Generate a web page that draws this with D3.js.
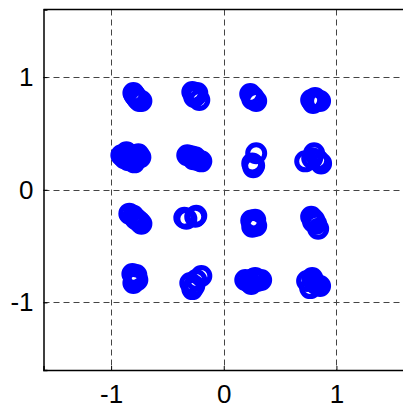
<!DOCTYPE html>
<meta charset="utf-8">
<style>
body { margin: 0; background: #fff; }
svg { display: block; }
.tick text { font-family: "Liberation Sans", Arial, sans-serif; font-size: 26px; fill: #000; }
</style>
<body>
<script src="https://d3js.org/d3.v7.min.js"></script>
<script>

var width = 403,
    height = 408;

// received symbols (in-phase / quadrature)
var inPhase = [
  -0.802, -0.785, -0.767, -0.749, -0.776, -0.731, -0.793,
  -0.279, -0.244, -0.217, -0.262, -0.235,
   0.235,  0.262,  0.288,  0.253,
   0.776,  0.802,  0.829,  0.855,  0.811,  0.793,
  -0.909, -0.864, -0.820, -0.785, -0.740, -0.847, -0.793, -0.829, -0.882, -0.758,
  -0.324, -0.288, -0.253, -0.226, -0.199, -0.270,
   0.288,  0.253,  0.262,  0.270,
   0.802,  0.723,  0.864,  0.838,  0.785,
  -0.838, -0.802, -0.767, -0.731, -0.785, -0.749,
  -0.350, -0.244, -0.332, -0.253,
   0.244,  0.270,  0.288,  0.253,  0.279,
   0.776,  0.802,  0.820,  0.838,  0.793,
  -0.811, -0.785, -0.767, -0.802, -0.776, -0.793,
  -0.297, -0.262, -0.244, -0.199, -0.279,
   0.191,  0.226,  0.262,  0.297,  0.332,  0.244,  0.279,
   0.740,  0.785,  0.820,  0.855,  0.767,  0.802
];

var quadrature = [
   0.859,  0.833,  0.806,  0.788,  0.824,  0.788,  0.841,
   0.868,  0.841,  0.797,  0.824,  0.859,
   0.850,  0.824,  0.788,  0.806,
   0.797,  0.788,  0.797,  0.788,  0.815,  0.770,
   0.306,  0.332,  0.306,  0.279,  0.288,  0.261,  0.243,  0.288,  0.279,  0.315,
   0.306,  0.297,  0.288,  0.261,  0.252,  0.270,
   0.324,  0.234,  0.199,  0.216,
   0.324,  0.252,  0.234,  0.261,  0.279,
  -0.212, -0.230, -0.266, -0.301, -0.257, -0.283,
  -0.248, -0.230, -0.257, -0.239,
  -0.274, -0.292, -0.319, -0.328, -0.266,
  -0.239, -0.266, -0.301, -0.346, -0.283,
  -0.748, -0.774, -0.801, -0.828, -0.757, -0.810,
  -0.828, -0.855, -0.801, -0.765, -0.882,
  -0.801, -0.819, -0.792, -0.810, -0.801, -0.837, -0.783,
  -0.810, -0.783, -0.837, -0.855, -0.873, -0.819
];

var axisDomain = [-1.6, 1.6],
    tickValues = [-1, 0, 1];

var points = inPhase.map(function(d, i) { return {i: d, q: quadrature[i]}; });

var x = d3.scaleLinear().domain(axisDomain).range([43.5, 404]);
var y = d3.scaleLinear().domain(axisDomain).range([370, 9.5]);

var svg = d3.select("body").append("svg")
    .attr("width", width)
    .attr("height", height);

// dashed grid
svg.append("g").selectAll("line")
    .data(tickValues).enter().append("line")
    .attr("x1", d => Math.round(x(d)) + 0.5).attr("x2", d => Math.round(x(d)) + 0.5)
    .attr("y1", y(1.6)).attr("y2", y(-1.6))
    .attr("stroke", "#444").attr("stroke-dasharray", "6,4");

svg.append("g").selectAll("line")
    .data(tickValues).enter().append("line")
    .attr("y1", d => Math.round(y(d)) + 0.5).attr("y2", d => Math.round(y(d)) + 0.5)
    .attr("x1", x(-1.6)).attr("x2", x(1.6))
    .attr("stroke", "#444").attr("stroke-dasharray", "6,4");

// markers
svg.append("g").selectAll("circle")
    .data(points).enter().append("circle")
    .attr("cx", d => x(d.i))
    .attr("cy", d => y(d.q))
    .attr("r", 8.5)
    .attr("fill", "none")
    .attr("stroke", "#0000ff")
    .attr("stroke-width", 5);

// axes
var xAxis = d3.axisBottom(x).tickValues(tickValues).tickSize(-4).tickPadding(15);
var yAxis = d3.axisLeft(y).tickValues(tickValues).tickSize(-4).tickPadding(10);

var gx = svg.append("g").attr("transform", "translate(0," + y(-1.6) + ")").call(xAxis);
var gy = svg.append("g").attr("transform", "translate(" + x(-1.6) + ",0)").call(yAxis);

[gx, gy].forEach(function(g) {
  g.select(".domain").attr("stroke", "#000").attr("stroke-width", 1.5);
  g.selectAll(".tick line").attr("stroke", "#000");
  g.selectAll(".tick text").text(d => d < 0 ? "-" + Math.abs(d) : d);
});

svg.append("line")
    .attr("x1", x(-1.6)).attr("x2", x(1.6))
    .attr("y1", y(1.6)).attr("y2", y(1.6))
    .attr("stroke", "#000").attr("stroke-width", 1.5);

</script>
</body>
